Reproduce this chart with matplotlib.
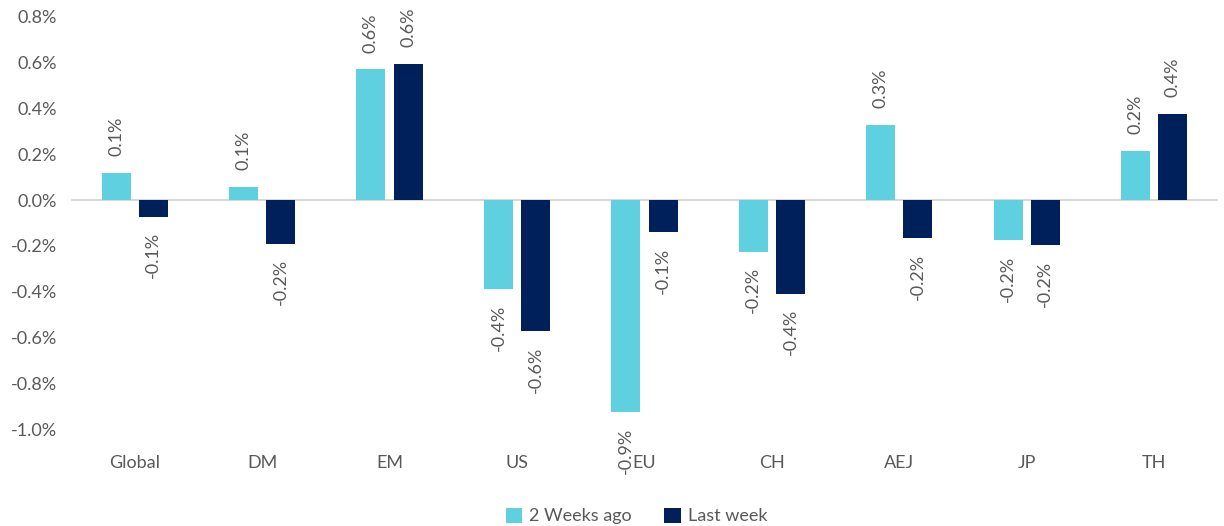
import numpy as np
import matplotlib
matplotlib.use('Agg')
import matplotlib.pyplot as plt

# 数据 (单位: %)
categories = ['Global', 'DM', 'EM', 'US', 'EU', 'CH', 'AEJ', 'JP', 'TH']
two_weeks_ago = [0.12, 0.057, 0.572, -0.389, -0.926, -0.227, 0.328, -0.175, 0.214]
last_week = [-0.074, -0.19, 0.594, -0.572, -0.14, -0.41, -0.166, -0.197, 0.376]
series_names = ['2 Weeks ago', 'Last week']
y_ticks = [-1.0, -0.8, -0.6, -0.4, -0.2, 0.0, 0.2, 0.4, 0.6, 0.8]

LIGHT = '#5FD0DF'
DARK = '#00205B'
GREY = '#595959'

plt.rcParams['font.family'] = ['Lato', 'DejaVu Sans']

fig = plt.figure(figsize=(12.24, 5.26), dpi=100)
ax = fig.add_axes([0.058, 0.1844, 0.937, 0.7833])

x = np.arange(len(categories))
w = 0.228
off = 0.146

b1 = ax.bar(x - off, two_weeks_ago, w, color=LIGHT, label=series_names[0], zorder=2)
b2 = ax.bar(x + off, last_week, w, color=DARK, label=series_names[1], zorder=2)

# 数值标签 (旋转90度)
for bars, vals in [(b1, two_weeks_ago), (b2, last_week)]:
    for rect, v in zip(bars, vals):
        cx = rect.get_x() + rect.get_width() / 2
        if v >= 0:
            ax.annotate(f'{v:.1f}%', (cx, v), xytext=(0, 12), textcoords='offset points',
                        rotation=90, ha='center', va='bottom', fontsize=13, color=GREY)
        else:
            ax.annotate(f'{v:.1f}%', (cx, v), xytext=(0, -11), textcoords='offset points',
                        rotation=90, ha='center', va='top', fontsize=13, color=GREY)

ax.axhline(0, color='#D9D9D9', linewidth=1.5, zorder=1)
ax.set_xlim(-0.5, len(categories) - 0.5)
ax.set_ylim(-1.0, 0.8)
ax.set_yticks(y_ticks)
ax.set_yticklabels([f'{t:.1f}%' for t in y_ticks])
ax.set_xticks(x)
ax.set_xticklabels(categories)
ax.tick_params(axis='both', length=0, labelsize=13, colors=GREY)
ax.tick_params(axis='x', pad=19)
ax.tick_params(axis='y', pad=10)
for s in ax.spines.values():
    s.set_visible(False)

fig.legend(loc='lower center', bbox_to_anchor=(0.52, -0.028), ncol=2, frameon=False,
           fontsize=13, labelcolor=GREY, handlelength=0.9, handleheight=0.9,
           handletextpad=0.4, columnspacing=1.8)

plt.savefig('out.png', dpi=100)
plt.close()
